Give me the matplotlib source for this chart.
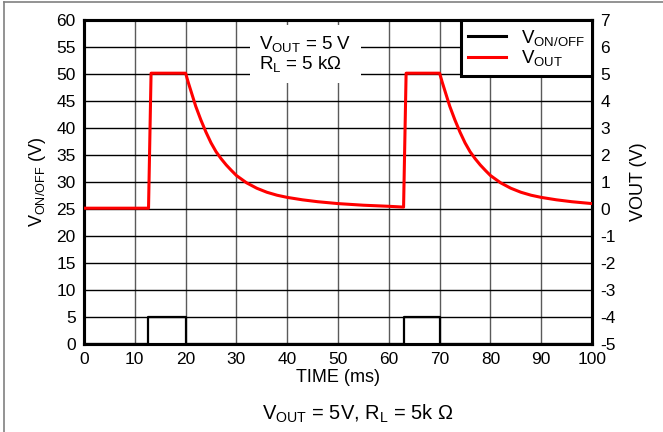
import matplotlib.pyplot as plt
from matplotlib.lines import Line2D

plt.rcParams['font.family'] = ['Liberation Sans', 'DejaVu Sans']
plt.rcParams['mathtext.fontset'] = 'custom'
plt.rcParams['mathtext.rm'] = 'Liberation Sans'
plt.rcParams['mathtext.it'] = 'Liberation Sans'
plt.rcParams['axes.unicode_minus'] = False

# V_ON/OFF enable pulses (left axis, V)
t_on = [0, 12.6, 12.6, 20, 20, 62.9, 62.9, 70, 70, 100]
v_on = [0, 0, 5, 5, 0, 0, 5, 5, 0, 0]

# V_OUT response (right axis, V)
t_out = [0, 12.7, 13.2, 20, 20.5, 21, 22, 23, 24, 25, 26, 27, 28, 29, 30,
         32, 34, 36, 38, 40, 43, 46, 50, 55, 60, 62.9, 63.4,
         70, 70.5, 71, 72, 73, 74, 75, 76, 77, 78, 79, 80,
         82, 84, 86, 88, 90, 93, 96, 100]
v_out = [0.03, 0.03, 5.03, 5.03, 4.7, 4.4, 3.8, 3.3, 2.85, 2.45, 2.12, 1.86, 1.63, 1.43, 1.24,
         0.97, 0.77, 0.62, 0.51, 0.43, 0.34, 0.27, 0.2, 0.14, 0.1, 0.07, 5.03,
         5.03, 4.7, 4.4, 3.8, 3.3, 2.85, 2.45, 2.12, 1.86, 1.63, 1.43, 1.24,
         0.97, 0.77, 0.62, 0.51, 0.43, 0.34, 0.27, 0.2]

fig = plt.figure(figsize=(6.63, 4.32), dpi=100)
ax = fig.add_axes([0.1267, 0.2037, 0.7663, 0.75])
ax2 = ax.twinx()

ax.plot(t_on, v_on, color='black', linewidth=1.6, zorder=3)
ax2.plot(t_out, v_out, color='#ff0000', linewidth=2.2, zorder=3)

ax.set_xlim(0, 100)
ax.set_ylim(0, 60)
ax2.set_ylim(-5, 7)
ax.set_xticks(range(0, 101, 10))
ax.set_yticks(range(0, 61, 5))
ax2.set_yticks(range(-5, 8, 1))

ax.yaxis.grid(True, color='black', linewidth=1.0)
ax.xaxis.grid(True, color='#5a5a5a', linewidth=1.0)
ax.set_axisbelow(True)

for a in (ax, ax2):
    a.tick_params(length=0, labelsize=12.5)
    for s in a.spines.values():
        s.set_linewidth(2.2)
        s.set_color('black')
ax.tick_params(axis='y', pad=6)
ax.tick_params(axis='x', pad=6)
ax2.tick_params(axis='y', pad=6)

ax.set_xlabel('TIME (ms)', fontsize=13, labelpad=1)
ax.set_ylabel('V$_{\\mathrm{ON/OFF}}$ (V)', fontsize=13, labelpad=6)
ax2.set_ylabel('VOUT (V)', fontsize=13, labelpad=10)

ax2.text(0.345, 0.895, 'V$_{\\mathrm{OUT}}$ = 5 V\nR$_{\\mathrm{L}}$ = 5 k\u03a9',
         transform=ax.transAxes, fontsize=13.5, ha='left', va='center',
         linespacing=1.0, zorder=5,
         bbox=dict(boxstyle='square,pad=0.5', facecolor='white', edgecolor='none'))

handles = [Line2D([], [], color='black', linewidth=2.2),
           Line2D([], [], color='#ff0000', linewidth=2.2)]
leg = ax2.legend(handles, ['V$_{\\mathrm{ON/OFF}}$', 'V$_{\\mathrm{OUT}}$'],
                 loc='upper right', bbox_to_anchor=(1.0, 1.0), fontsize=13.5,
                 fancybox=False, framealpha=1, edgecolor='black',
                 handlelength=2.0, handletextpad=0.8, borderpad=0.4,
                 labelspacing=0.05, borderaxespad=0)
leg.get_frame().set_linewidth(2.2)
leg.set_zorder(6)

fig.text(358 / 663, 1 - 414 / 432, 'V$_{\\mathrm{OUT}}$ = 5V, R$_{\\mathrm{L}}$ = 5k \u03a9',
         fontsize=14.5, ha='center', va='center')

# thin grey frame around the figure
fig.add_artist(Line2D([4 / 663, 4 / 663], [0, 1 - 2 / 432], color='#808080',
                      linewidth=1.2, transform=fig.transFigure))
fig.add_artist(Line2D([4 / 663, 1], [1 - 2 / 432, 1 - 2 / 432], color='#808080',
                      linewidth=1.2, transform=fig.transFigure))

fig.savefig('out.png', dpi=100)
